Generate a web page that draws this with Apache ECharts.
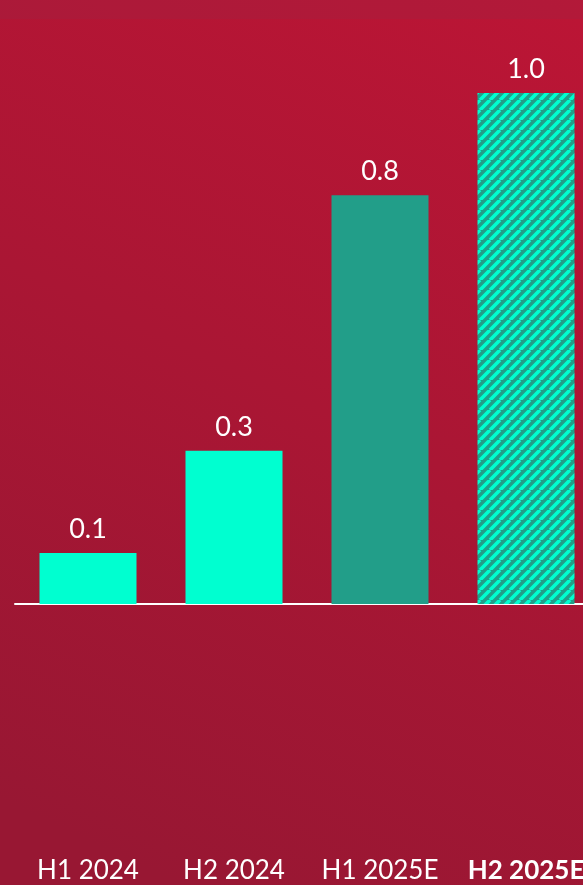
<!DOCTYPE html>
<html>
<head>
<meta charset="utf-8">
<script src="https://cdn.jsdelivr.net/npm/echarts@6/dist/echarts.min.js"></script>
<style>
  html, body { margin: 0; padding: 0; overflow: hidden; width: 583px; height: 885px; }
  /* the plot runs past the right edge, so the chart is a bit wider than the page */
  #main { width: 599px; height: 885px; }
</style>
</head>
<body>
<div id="main"></div>
<script>
var categories = ['H1 2024', 'H2 2024', 'H1 2025E', 'H2 2025E'];
var values = [0.1, 0.3, 0.8, 1.0];
var barKinds = ['actual', 'actual', 'estimate', 'hatched'];

var CYAN = '#00FFD0';
var TEAL = '#229E89';

// diagonal stripes for the last bar
function makeStripes() {
    var c = document.createElement('canvas');
    c.width = 10; c.height = 10;
    var ctx = c.getContext('2d');
    ctx.fillStyle = TEAL;
    ctx.fillRect(0, 0, 10, 10);
    ctx.strokeStyle = CYAN;
    ctx.lineWidth = 3.6;
    ctx.beginPath();
    for (var k = -10; k <= 10; k += 10) {
        ctx.moveTo(k, 10);
        ctx.lineTo(k + 10, 0);
    }
    ctx.stroke();
    return c;
}
var stripes = makeStripes();

function barColor(kind) {
    if (kind === 'actual') return CYAN;
    if (kind === 'estimate') return TEAL;
    return { image: stripes, repeat: 'repeat' };
}

var myChart = echarts.init(document.getElementById('main'));
var option = {
    animation: false,
    backgroundColor: {
        type: 'linear', x: 1, y: 0, x2: 0.3, y2: 1,
        colorStops: [
            { offset: 0, color: '#BC1535' },
            { offset: 1, color: '#981733' }
        ]
    },
    graphic: [{
        type: 'rect',
        shape: { x: 0, y: 0, width: 599, height: 19 },
        style: { fill: 'rgba(150,40,70,0.25)' },
        z: -1
    }],
    grid: { left: 15, right: 0, top: 93, height: 511, containLabel: false },
    xAxis: {
        type: 'category',
        data: categories.map(function (c, i) {
            return i === categories.length - 1
                ? { value: c, textStyle: { fontWeight: 'bold' } }
                : c;
        }),
        axisLine: { show: true, lineStyle: { color: '#FFFFFF', width: 2 } },
        axisTick: { show: false },
        axisLabel: {
            color: '#FFFFFF',
            fontFamily: 'Lato',
            fontSize: 26,
            margin: 254,
            interval: 0
        }
    },
    yAxis: {
        type: 'value',
        min: 0,
        max: 1.0,
        show: false,
        splitLine: { show: false }
    },
    series: [{
        type: 'bar',
        barWidth: 97,
        data: values.map(function (v, i) {
            return { value: v, itemStyle: { color: barColor(barKinds[i]) } };
        }),
        label: {
            show: true,
            position: 'top',
            distance: 10,
            color: '#FFFFFF',
            fontFamily: 'Lato',
            fontSize: 27,
            formatter: function (p) { return p.value.toFixed(1); }
        }
    }]
};
myChart.setOption(option);
</script>
</body>
</html>
